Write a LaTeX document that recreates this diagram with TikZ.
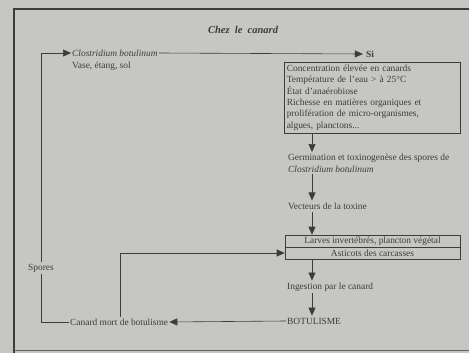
\documentclass[tikz,border=0pt]{standalone}
\usepackage{fontspec}
\setmainfont{Liberation Serif}
\usetikzlibrary{positioning,calc,arrows.meta}
\definecolor{bg}{RGB}{198,198,195}
\definecolor{ink}{RGB}{60,60,60}
\tikzset{
    txt/.style={inner sep=1pt, text=ink, font=\fontsize{9.4}{11.4}\selectfont},
    flow/.style={draw=ink, line width=0.6pt, -{Triangle[length=8pt,width=7pt]}},
    link/.style={draw=ink, line width=0.6pt},
    cell/.style={draw=ink, line width=0.6pt, minimum width=175pt, minimum height=12pt, inner sep=0pt, text=ink, font=\fontsize{9.4}{11}\selectfont}
}
\begin{document}
\begin{tikzpicture}[x=1pt, y=-1pt]
    \useasboundingbox (0,0) rectangle (469,353);
    \fill[bg] (0,0) rectangle (469,353);
    % frame
    \draw[ink, line width=1.5pt] (469,9) -- (14,9) -- (14,353);
    \draw[ink!80, line width=0.8pt] (14,350) -- (469,350);

    \node [txt, font=\fontsize{10.5}{12}\selectfont\bfseries\itshape] (title) at (243,30) {Chez\ \ le\ \ canard};
    \node [txt, anchor=west] (clos) at (71,53) {\textit{Clostridium botulinum}};
    \node [txt, anchor=west] (vase) at (71,66) {Vase, étang, sol};
    \node [txt, font=\fontsize{9.4}{11}\selectfont\bfseries, inner sep=3pt] (si) at (370,54) {Si};
    \node [draw=ink, line width=0.6pt, anchor=north west, txt, inner sep=2.5pt, text width=171pt, align=left, minimum height=67pt] (cond) at (284,62)
        {Concentration élevée en canards\\ Température de l'eau > à 25°C\\ État d'anaérobiose\\ Richesse en matières organiques et\\ prolifération de micro-organismes,\\ algues, planctons...};
    \node [txt, anchor=north west, align=left] (germ) at (287,153)
        {Germination et toxinogenèse des spores de\\ \textit{Clostridium botulinum}};
    \node [txt, anchor=west] (vect) at (287,206) {Vecteurs de la toxine};
    \node [cell] (larves) at (372.5,241) {Larves invertébrés, plancton végétal};
    \node [cell] (asticots) at (372.5,253) {Asticots des carcasses};
    \node [txt, anchor=west] (ingest) at (286,287) {Ingestion par le canard};
    \node [txt, anchor=west] (botu) at (286,321) {BOTULISME};
    \node [txt, anchor=west] (mort) at (69,322) {Canard mort de botulisme};
    \node [txt, inner sep=2pt] (spores) at (41,268) {Spores};

    \coordinate (x312) at (312,0);
    \coordinate (x120) at (120,0);

    \draw [flow] (clos.east) -- (si.west);
    \draw [flow] (cond.south -| x312) -- ($(germ.north -| x312)+(0,-1)$);
    \draw [flow] ($(germ.south -| x312)+(0,1)$) -- ($(vect.north -| x312)+(0,-1)$);
    \draw [flow] ($(vect.south -| x312)+(0,1)$) -- (larves.north -| x312);
    \draw [flow] (asticots.south -| x312) -- ($(ingest.north -| x312)+(0,-1)$);
    \draw [flow] ($(ingest.south -| x312)+(0,1)$) -- ($(botu.north -| x312)+(0,-1)$);
    \draw [flow] (botu.west) -- (mort.east);
    \draw [flow] (mort.north -| x120) |- (asticots.west);
    \draw [link] (mort.west) -| (spores.south);
    \draw [flow] (spores.north) |- (clos.west);
\end{tikzpicture}
\end{document}
